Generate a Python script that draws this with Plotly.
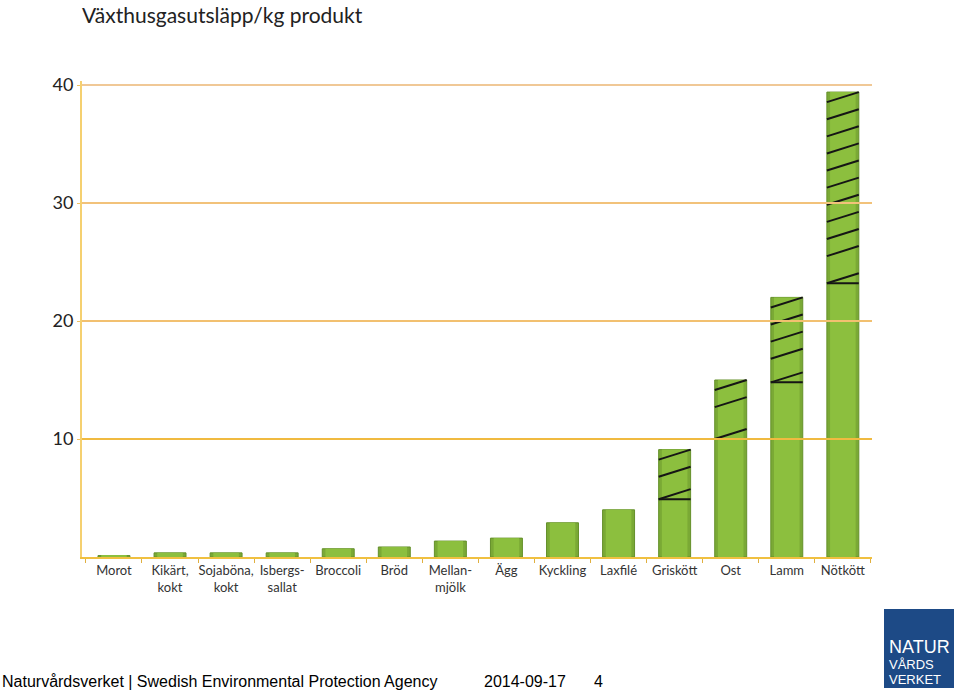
import plotly.graph_objects as go

categories = ["Morot", "Kikärt,<br>kokt", "Sojaböna,<br>kokt", "Isbergs-<br>sallat", "Broccoli",
              "Bröd", "Mellan-<br>mjölk", "Ägg", "Kyckling", "Laxfilé", "Griskött", "Ost",
              "Lamm", "Nötkött"]
totals = [0.12, 0.35, 0.35, 0.35, 0.7, 0.85, 1.35, 1.6, 2.9, 4.0, 9.1, 15.0, 22.0, 39.4]
range_low = [None, None, None, None, None, None, None, None, None, None, 4.9, 10.0, 14.8, 23.2]
y_ticks = [10, 20, 30, 40]

W, H = 960, 692
L, T = 82, 81
R = W - 872
B = H - 557
PW, PH = W - L - R, H - T - B
Y_TOP = 40 + 4 / 11.8

def px(x):
    return (x - L) / PW

def py(y):
    return (H - B - y) / PH

xs = list(range(len(categories)))
bar_w = 0.57
fig = go.Figure()
fig.add_trace(go.Bar(
    x=xs, y=totals, width=bar_w,
    marker=dict(color="#7aa935", line=dict(color="#64902a", width=1)),
    hoverinfo="skip",
))
fig.add_trace(go.Bar(
    x=xs, y=totals, width=bar_w * 0.8,
    marker=dict(color="#8cbf3e", line=dict(width=0)),
    hoverinfo="skip",
))

# hatch lines for the range portion of each bar
hx, hy = [], []
step, rise = 1.45, 0.85
for i, (lo, hi) in enumerate(zip(range_low, totals)):
    if lo is None:
        continue
    x0, x1 = i - bar_w / 2, i + bar_w / 2
    hx += [x0, x1, None]
    hy += [lo, lo, None]
    n = int((hi - lo - rise) / step)
    start = hi - rise - n * step
    ys = [lo] + [start + k * step for k in range(1, n + 1)]
    for yv in ys:
        hx += [x0, x1, None]
        hy += [yv, min(yv + rise, hi), None]
fig.add_trace(go.Scatter(x=hx, y=hy, mode="lines", line=dict(color="#151515", width=2),
                         hoverinfo="skip", cliponaxis=False))

fig.update_layout(
    width=W, height=H,
    margin=dict(l=L, r=R, t=T, b=B),
    plot_bgcolor="white", paper_bgcolor="white",
    showlegend=False, barmode="overlay",
    font=dict(family="Lato, Open Sans, sans-serif", color="#2a2a2a"),
)
fig.update_xaxes(
    range=[-0.57, 13.52], tickvals=xs, ticktext=categories, ticks="",
    tickfont=dict(size=13, color="#333"), showgrid=False,
    showline=True, linecolor="#f0c040", linewidth=2, zeroline=False,
    minor=dict(tickvals=[i + 0.5 for i in range(-1, 14)], ticks="outside", ticklen=4,
               tickcolor="#e0b040", showgrid=False),
)
fig.update_yaxes(
    range=[0, Y_TOP], tickvals=y_ticks, ticks="outside", ticklen=3, tickcolor="#f0c060",
    tickfont=dict(size=18, color="#222"), ticklabelstandoff=0,
    showgrid=False,
    showline=True, linecolor="#f5d070", linewidth=2, zeroline=False,
)
# gridlines drawn above the bars, as in the original
grid_colors = ["#f0ba40", "#f2c070", "#f2c27a", "#f0c896"]
for v, c in zip(y_ticks, grid_colors):
    fig.add_shape(type="line", xref="paper", yref="y", x0=0, x1=1, y0=v, y1=v,
                  line=dict(color=c, width=2), layer="above")

ann = [
    dict(text="Växthusgasutsläpp/kg produkt", x=px(80), y=py(14), xanchor="left", yanchor="middle",
         font=dict(size=21, color="#222", family="Lato, Open Sans, sans-serif")),
    dict(text="Naturvårdsverket | Swedish Environmental Protection Agency", x=px(0), y=py(681),
         xanchor="left", yanchor="middle",
         font=dict(size=16, color="#000", family="Liberation Sans, Arial, sans-serif")),
    dict(text="2014-09-17", x=px(482), y=py(681), xanchor="left", yanchor="middle",
         font=dict(size=16, color="#000", family="Liberation Sans, Arial, sans-serif")),
    dict(text="4", x=px(592), y=py(681), xanchor="left", yanchor="middle",
         font=dict(size=16, color="#000", family="Liberation Sans, Arial, sans-serif")),
    dict(text="NATUR", x=px(887), y=py(647), xanchor="left", yanchor="middle",
         font=dict(size=18, color="white", family="Liberation Sans, Arial, sans-serif")),
    dict(text="VÅRDS", x=px(887), y=py(664), xanchor="left", yanchor="middle",
         font=dict(size=13, color="white", family="Liberation Sans, Arial, sans-serif")),
    dict(text="VERKET", x=px(887), y=py(679), xanchor="left", yanchor="middle",
         font=dict(size=13, color="white", family="Liberation Sans, Arial, sans-serif")),
]
for a in ann:
    a.update(xref="paper", yref="paper", showarrow=False)
fig.update_layout(annotations=ann)
fig.add_shape(type="rect", xref="paper", yref="paper", x0=px(884), x1=px(954), y0=py(688), y1=py(609),
              fillcolor="#1d4a86", line=dict(width=0), layer="below")

fig.write_html("out.html", config={"displayModeBar": False},
               post_script="document.body.style.margin='0px';")
